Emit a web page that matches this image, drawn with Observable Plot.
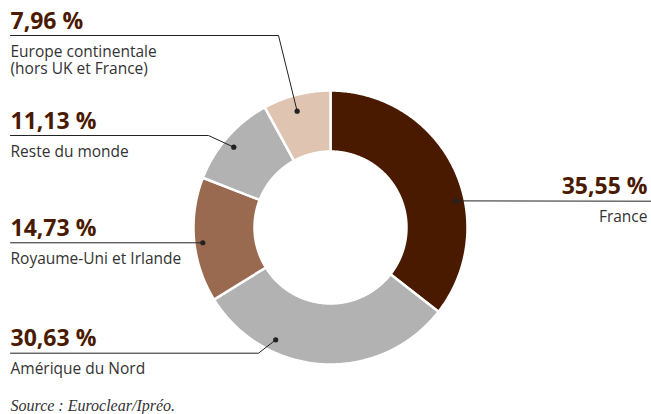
<!DOCTYPE html>
<html><head><meta charset="utf-8">
<script src="https://cdn.jsdelivr.net/npm/d3@7"></script>
<script src="https://cdn.jsdelivr.net/npm/@observablehq/plot@0.6"></script>
<style>body{margin:0;background:#fff}</style>
</head><body><div id="chart"></div>
<script>
// ---- data ----
const categories = ["France", "Amérique du Nord", "Royaume-Uni et Irlande", "Reste du monde", "Europe continentale\n(hors UK et France)"];
const values = [35.55, 30.63, 14.73, 11.13, 7.96];
const colors = ["#4a1a00", "#b2b2b2", "#996a4f", "#b2b2b2", "#e0c4b2"];
const source = "Source : Euroclear/Ipréo.";

// ---- layout ----
const W = 651, H = 414, CX = 330, CY = 227, R_OUT = 137, R_IN = 76;
const lineY = [200.7, 352.7, 242.3, 135, 35];
const elbowX = [null, 258, null, 208, 278];
const dotAngleDeg = [78, 206, 263.2, 309.7, 344];
const dotRadius = [128, 125, 128.6, 125.7, 121];
const side = ["right", "left", "left", "left", "left"];
const LEFT_X = 10, RIGHT_X = 647;

const fmt = v => v.toFixed(2).replace(".", ",") + " %";

const arcs = d3.pie().sort(null).value(d => d)(values);
const slices = arcs.map((a) => {
  const pts = [];
  const n = Math.max(2, Math.ceil((a.endAngle - a.startAngle) / (Math.PI / 360)));
  for (let k = 0; k <= n; k++) {
    const t = a.startAngle + (a.endAngle - a.startAngle) * k / n;
    pts.push({x: CX + R_OUT * Math.sin(t), y: CY - R_OUT * Math.cos(t)});
  }
  for (let k = n; k >= 0; k--) {
    const t = a.startAngle + (a.endAngle - a.startAngle) * k / n;
    pts.push({x: CX + R_IN * Math.sin(t), y: CY - R_IN * Math.cos(t)});
  }
  return pts;
});

const dots = categories.map((c, i) => {
  const t = dotAngleDeg[i] * Math.PI / 180;
  return {x: CX + dotRadius[i] * Math.sin(t), y: CY - dotRadius[i] * Math.cos(t), i};
});

const leaders = categories.map((c, i) => {
  const d = dots[i];
  if (side[i] === "right") return [{x: d.x, y: d.y}, {x: W, y: lineY[i]}];
  const ex = elbowX[i] == null ? d.x : elbowX[i];
  return [{x: LEFT_X, y: lineY[i]}, {x: ex, y: lineY[i]}, {x: d.x, y: d.y}];
});

const labels = categories.map((c, i) => ({
  pct: fmt(values[i]),
  name: c,
  x: side[i] === "right" ? RIGHT_X : LEFT_X,
  anchor: side[i] === "right" ? "end" : "start",
  yPct: lineY[i] - 7,
  yName: lineY[i] + 9
}));

const font = "Open Sans";

const chart = Plot.plot({
  width: W, height: H, margin: 0,
  x: {domain: [0, W], range: [0, W], axis: null},
  y: {domain: [0, H], range: [0, H], axis: null},
  marks: [
    ...slices.map((pts, i) => Plot.line(pts, {x: "x", y: "y", curve: "linear-closed", fill: colors[i], stroke: "white", strokeWidth: 2.5})),
    ...leaders.map(pts => Plot.line(pts, {x: "x", y: "y", stroke: "#222", strokeWidth: 1})),
    Plot.dot(dots, {x: "x", y: "y", r: 2.6, fill: "#222", stroke: null}),
    ...labels.map(l => Plot.text([l], {x: "x", y: "yPct", text: "pct", textAnchor: l.anchor, lineAnchor: "bottom", fontSize: 23, fontWeight: 700, fill: "#4a1a00", fontFamily: font})),
    ...labels.map(l => Plot.text([l], {x: "x", y: "yName", text: "name", textAnchor: l.anchor, lineAnchor: "top", fontSize: 15.5, lineHeight: 1.1, fill: "#333", fontFamily: font})),
    Plot.text([source], {x: LEFT_X, y: 410, text: d => d, textAnchor: "start", lineAnchor: "bottom", fontSize: 16, fontStyle: "italic", fill: "#333", fontFamily: "Liberation Serif"})
  ]
});
document.getElementById("chart").appendChild(chart);
</script>
</body></html>
